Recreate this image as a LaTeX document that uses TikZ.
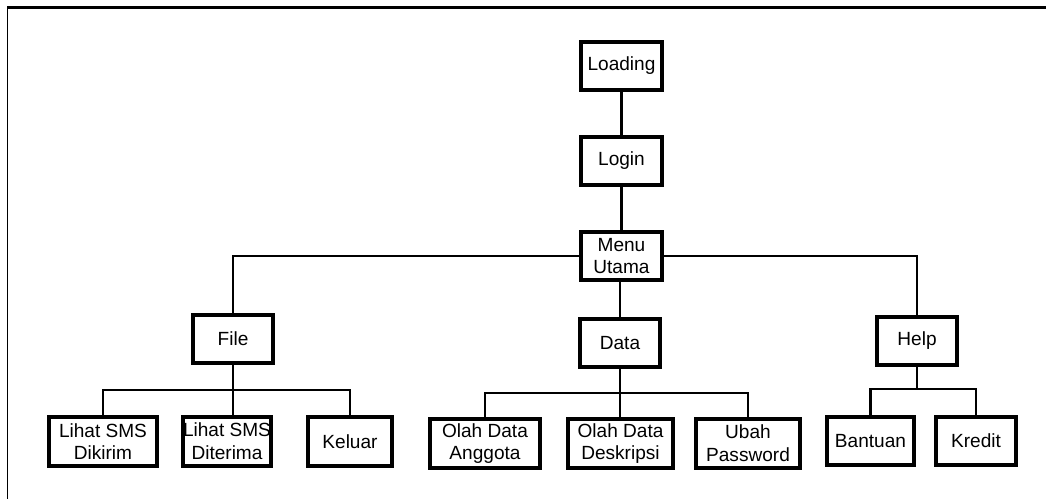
\documentclass[tikz,border=0pt]{standalone}
\usepackage{fontspec}
\setmainfont{Liberation Sans}
\usepackage{tikz}
\usetikzlibrary{positioning}

\tikzset{
    menubox/.style={shape=rectangle, draw=black, line width=2.3pt, align=center,
        minimum height=36pt, inner sep=0pt, font=\fontsize{14.3}{17}\selectfont},
    link/.style={line width=2pt, line join=miter}
}

\begin{document}
\begin{tikzpicture}[x=0.75pt, y=-0.75pt]
        \useasboundingbox (0,0) rectangle (1046,499);
        \draw[line width=1.8pt] (7,7.5) -- (1046,7.5);
        \draw[line width=0.9pt] (7.5,7) -- (7.5,499);

        \node[menubox, minimum width=60.75pt] (loading) at (621.5,66) {Loading};
        \node[menubox, minimum width=60.75pt] (login) at (621.5,161) {Login};
        \node[menubox, minimum width=60.75pt] (menu) at (621.5,256) {Menu\\Utama};

        \node[menubox, minimum width=60pt] (file) at (233,339) {File};
        \node[menubox, minimum width=60pt] (data) at (620,343) {Data};
        \node[menubox, minimum width=60pt] (help) at (917,341) {Help};

        \node[menubox, minimum width=81pt, minimum height=36.75pt] (dikirim) at (103,441.5) {Lihat SMS\\Dikirim};
        \node[menubox, minimum width=66pt, minimum height=36.75pt] (diterima) at (227,441.5) {Lihat SMS\\Diterima};
        \node[menubox, minimum width=63pt, minimum height=36.75pt] (keluar) at (350,441.5) {Keluar};

        \node[menubox, minimum width=82.5pt, minimum height=36.75pt] (anggota) at (485,443.5) {Olah Data\\Anggota};
        \node[menubox, minimum width=78.75pt, minimum height=36.75pt] (deskripsi) at (620.5,443.5) {Olah Data\\Deskripsi};
        \node[menubox, minimum width=78pt, minimum height=36.75pt] (password) at (748,443.5) {Ubah\\Password};

        \node[menubox, minimum width=65.25pt] (bantuan) at (870.5,441) {Bantuan};
        \node[menubox, minimum width=60pt] (kredit) at (976,441) {Kredit};

        \coordinate (fbar) at (233,390);
        \coordinate (dbar) at (620,393);
        \coordinate (hbar) at (917,389);

        \draw[link] (loading) -- (login);
        \draw[link] (login) -- (menu);
        \draw[link] (menu.west) -| (file.north);
        \draw[link] (menu.east) -| (help.north);
        \draw[link] (menu.south -| data.north) -- (data.north);

        \draw[link] (file.south) -- (fbar) -| (dikirim.north);
        \draw[link] (fbar) -| (keluar.north);
        \draw[link] (fbar) -- (fbar |- diterima.north);

        \draw[link] (data.south) -- (dbar) -| (anggota.north);
        \draw[link] (dbar) -| (password.north);
        \draw[link] (dbar) -- (dbar |- deskripsi.north);

        \draw[link] (help.south) -- (hbar) -| (bantuan.north);
        \draw[link] (hbar) -| (kredit.north);
    \end{tikzpicture}
\end{document}
